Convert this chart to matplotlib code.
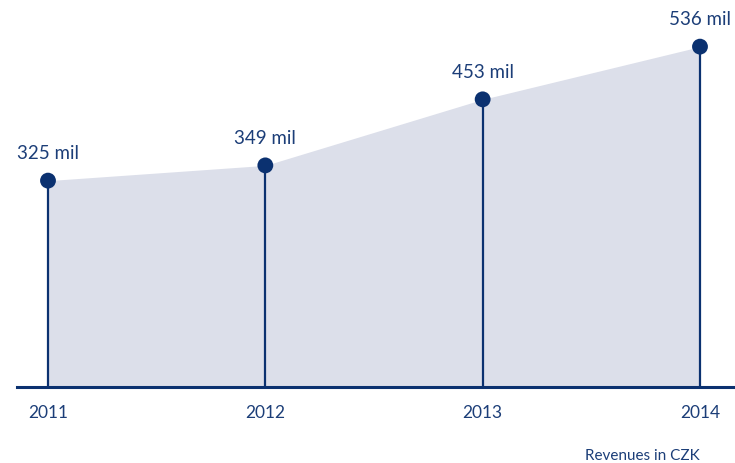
import matplotlib.pyplot as plt

years = ["2011", "2012", "2013", "2014"]
revenues = [325, 349, 453, 536]
value_labels = ["325 mil", "349 mil", "453 mil", "536 mil"]

navy = "#0b3170"
text_col = "#1c3e78"
fill_col = "#dcdfea"

plt.rcParams["font.family"] = ["Lato", "DejaVu Sans"]

fig = plt.figure(figsize=(7.35, 4.64), dpi=100)
ax = fig.add_axes([0, 0, 1, 1])
ax.axis("off")

x = list(range(len(years)))

# shaded area under the revenue line
ax.fill_between(x, revenues, 0, color=fill_col, lw=0, zorder=1)

# vertical stems and dots
ax.vlines(x, 0, revenues, color=navy, lw=1.6, zorder=2)
ax.scatter(x, revenues, s=130, color=navy, zorder=3, edgecolor="none")

# baseline
ax.axhline(0, xmin=17 / 735, xmax=1, color=navy, lw=2.2, zorder=2)

for xi, v, lab in zip(x, revenues, value_labels):
    ax.annotate(lab, (xi, v), xytext=(0, 14), textcoords="offset points",
                ha="center", va="bottom", fontsize=13.5, color=text_col)

for xi, y in zip(x, years):
    ax.annotate(y, (xi, 0), xytext=(0, -12), textcoords="offset points",
                ha="center", va="top", fontsize=12.5, color=text_col)

ax.annotate("Revenues in CZK", (x[-1], 0), xytext=(0, -44),
            textcoords="offset points", ha="right", va="top",
            fontsize=11, color=text_col)

# map data to pixel layout
ax.set_xlim(-48 / 217.33, (735 - 48) / 217.33)
ax.set_ylim(-(464 - 388) / 0.635, 388 / 0.635)

fig.savefig("out.png", dpi=100)
